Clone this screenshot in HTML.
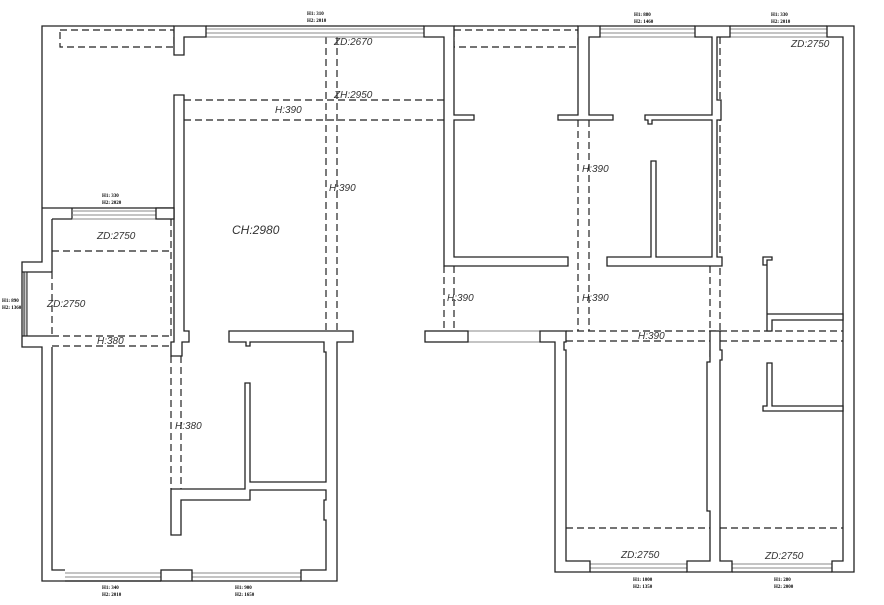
<!DOCTYPE html>
<html><head><meta charset="utf-8"><style>
html,body{margin:0;padding:0;background:#fff;}
svg{display:block}
.w{fill:#fff;stroke:#222;stroke-width:1.3}
.l{stroke:#222;stroke-width:1.3;fill:none}
.g{stroke:#888;stroke-width:1;fill:none}
.d{stroke:#222;stroke-width:1.2;fill:none;stroke-dasharray:7,4}
.t{font-family:"Liberation Sans",sans-serif;font-style:italic;font-size:10px;fill:#333}
.s{font-family:"Liberation Serif",serif;font-size:5px;fill:#000;font-weight:bold}
</style></head><body>
<svg width="884" height="605" viewBox="0 0 884 605" xmlns="http://www.w3.org/2000/svg">
<!-- dashed beams -->
<rect class="d" x="60" y="30" width="114" height="17"/>
<rect class="d" x="454" y="30" width="124" height="17"/>
<line class="d" x1="184" y1="100" x2="444" y2="100"/>
<line class="d" x1="184" y1="120" x2="444" y2="120"/>
<line class="d" x1="326" y1="37" x2="326" y2="331"/>
<line class="d" x1="337" y1="37" x2="337" y2="331"/>
<line class="d" x1="52" y1="251" x2="171" y2="251"/>
<line class="d" x1="171" y1="219" x2="171" y2="336"/>
<line class="d" x1="52" y1="272" x2="52" y2="336"/>
<line class="d" x1="52" y1="336" x2="171" y2="336"/>
<line class="d" x1="52" y1="346" x2="171" y2="346"/>
<line class="d" x1="171" y1="356" x2="171" y2="489"/>
<line class="d" x1="181" y1="356" x2="181" y2="489"/>
<line class="d" x1="444" y1="266" x2="444" y2="331"/>
<line class="d" x1="454" y1="266" x2="454" y2="331"/>
<line class="d" x1="578" y1="120" x2="578" y2="331"/>
<line class="d" x1="589" y1="120" x2="589" y2="331"/>
<line class="d" x1="710" y1="266" x2="710" y2="331"/>
<line class="d" x1="720" y1="37" x2="720" y2="331"/>
<line class="d" x1="566" y1="331" x2="843" y2="331"/>
<line class="d" x1="566" y1="341" x2="843" y2="341"/>
<line class="d" x1="566" y1="528" x2="843" y2="528"/>
<line class="d" x1="710" y1="350" x2="710" y2="490"/>
<!-- outer lines -->
<polyline class="l" points="174,26 42,26 42,262 22,262 22,347 42,347 42,581 161,581"/>
<polyline class="l" points="174,208 42,208"/>
<polyline class="l" points="52,347 52,570 65,570"/>
<polyline class="l" points="52,272 22,272"/>
<polyline class="l" points="52,219 72,219 72,208"/>
<polyline class="l" points="52,219 52,272"/>
<!-- left window bump -->
<rect x="24" y="272" width="3" height="64" fill="#ccc" stroke="#222" stroke-width="1"/>
<line class="l" x1="22" y1="336" x2="52" y2="336"/>
<!-- windows -->
<g class="g">
<line x1="206" y1="29" x2="424" y2="29"/><line x1="206" y1="33" x2="424" y2="33"/><line x1="206" y1="37" x2="424" y2="37"/>
<line x1="600" y1="29" x2="695" y2="29"/><line x1="600" y1="33" x2="695" y2="33"/><line x1="600" y1="37" x2="695" y2="37"/>
<line x1="730" y1="29" x2="827" y2="29"/><line x1="730" y1="33" x2="827" y2="33"/><line x1="730" y1="37" x2="827" y2="37"/>
<line x1="72" y1="211" x2="156" y2="211"/><line x1="72" y1="215" x2="156" y2="215"/><line x1="72" y1="219" x2="156" y2="219"/>
<line x1="65" y1="573" x2="161" y2="573"/><line x1="65" y1="577" x2="161" y2="577"/>
<line x1="192" y1="573" x2="301" y2="573"/><line x1="192" y1="577" x2="301" y2="577"/>
<line x1="590" y1="564" x2="687" y2="564"/><line x1="590" y1="568" x2="687" y2="568"/>
<line x1="732" y1="564" x2="832" y2="564"/><line x1="732" y1="568" x2="832" y2="568"/>
<line x1="468" y1="331" x2="540" y2="331"/><line x1="468" y1="342" x2="540" y2="342"/>
</g>
<g class="l">
<line x1="206" y1="26" x2="424" y2="26"/><line x1="600" y1="26" x2="695" y2="26"/><line x1="730" y1="26" x2="827" y2="26"/>
<line x1="65" y1="581" x2="161" y2="581"/><line x1="192" y1="581" x2="301" y2="581"/>
<line x1="590" y1="572" x2="687" y2="572"/><line x1="732" y1="572" x2="832" y2="572"/>
<line x1="454" y1="26" x2="578" y2="26"/>
</g>
<!-- walls -->
<polygon class="w" points="174,26 206,26 206,37 184,37 184,55 174,55"/>
<polygon class="w" points="174,95 184,95 184,331 189,331 189,342 182,342 182,356 171,356 171,342 174,342"/>
<rect class="w" x="156" y="208" width="18" height="11"/>
<polygon class="w" points="424,26 454,26 454,115 474,115 474,120 454,120 454,257 568,257 568,266 444,266 444,37 424,37"/>
<polygon class="w" points="578,26 600,26 600,37 589,37 589,115 613,115 613,120 558,120 558,115 578,115"/>
<polygon class="w" points="645,115 712,115 712,37 695,37 695,26 730,26 730,37 717,37 717,100 721,100 721,120 717,120 717,257 722,257 722,266 607,266 607,257 651,257 651,161 656,161 656,257 712,257 712,120 652,120 652,124 648,124 648,120 645,120"/>
<polygon class="w" points="827,26 854,26 854,572 832,572 832,561 843,561 843,37 827,37"/>
<polygon class="w" points="763,257 772,257 772,260 767,260 767,314 843,314 843,320 772,320 772,331 767,331 767,265 763,265"/>
<polygon class="w" points="767,363 772,363 772,406 843,406 843,411 763,411 763,406 767,406"/>
<polygon class="w" points="229,331 353,331 353,342 337,342 337,581 301,581 301,570 326,570 326,520 324,520 324,500 326,500 326,490 250,490 250,500 181,500 181,535 171,535 171,489 245,489 245,383 250,383 250,482 326,482 326,352 324,352 324,342 250,342 250,346 246,346 246,342 229,342"/>
<rect class="w" x="161" y="570" width="31" height="11"/>
<rect class="w" x="425" y="331" width="43" height="11"/>
<polygon class="w" points="540,331 566,331 566,342 564,342 564,350 566,350 566,561 590,561 590,572 555,572 555,342 540,342"/>
<polygon class="w" points="710,331 720,331 720,350 722,350 722,360 720,360 720,561 732,561 732,572 687,572 687,561 710,561 710,511 707,511 707,362 710,362"/>
<!-- labels -->
<text class="t" x="334" y="45">ZD:2670</text>
<text class="t" x="334" y="98">ZH:2950</text>
<text class="t" x="275" y="113">H:390</text>
<text class="t" x="329" y="191">H:390</text>
<text class="t" x="232" y="234" style="font-size:12px">CH:2980</text>
<text class="t" x="97" y="239">ZD:2750</text>
<text class="t" x="47" y="307">ZD:2750</text>
<text class="t" x="97" y="344">H:380</text>
<text class="t" x="175" y="429">H:380</text>
<text class="t" x="447" y="301">H:390</text>
<text class="t" x="582" y="172">H:390</text>
<text class="t" x="582" y="301">H:390</text>
<text class="t" x="638" y="339">H:390</text>
<text class="t" x="791" y="47">ZD:2750</text>
<text class="t" x="621" y="558">ZD:2750</text>
<text class="t" x="765" y="559">ZD:2750</text>
<text class="s" x="307" y="15">H1: 310</text><text class="s" x="307" y="22">H2: 2010</text>
<text class="s" x="634" y="16">H1: 880</text><text class="s" x="634" y="23">H2: 1460</text>
<text class="s" x="771" y="16">H1: 330</text><text class="s" x="771" y="23">H2: 2010</text>
<text class="s" x="102" y="197">H1: 330</text><text class="s" x="102" y="204">H2: 2020</text>
<text class="s" x="2" y="302">H1: 890</text><text class="s" x="2" y="309">H2: 1360</text>
<text class="s" x="102" y="589">H1: 340</text><text class="s" x="102" y="596">H2: 2010</text>
<text class="s" x="235" y="589">H1: 900</text><text class="s" x="235" y="596">H2: 1650</text>
<text class="s" x="633" y="581">H1: 1000</text><text class="s" x="633" y="588">H2: 1350</text>
<text class="s" x="774" y="581">H1: 280</text><text class="s" x="774" y="588">H2: 2000</text>
</svg>
</body></html>
